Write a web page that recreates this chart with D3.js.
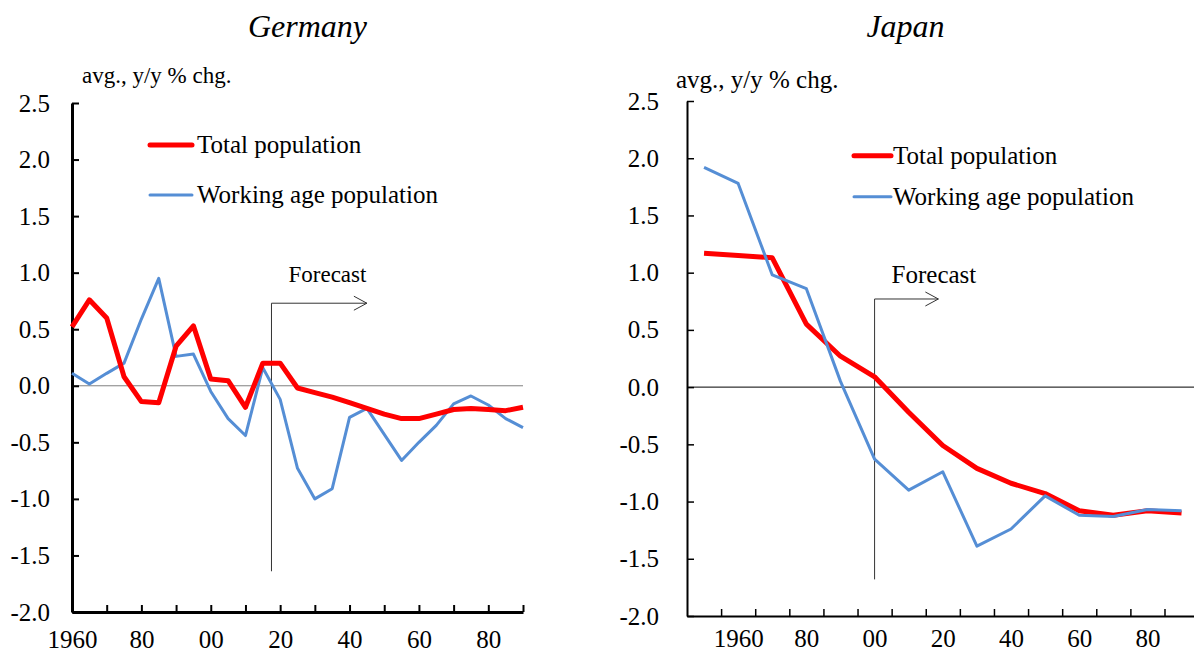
<!DOCTYPE html>
<html>
<head>
<meta charset="utf-8">
<script src="https://cdn.jsdelivr.net/npm/d3@7"></script>
<style>
  body { margin: 0; background: #fff; }
  svg text { font-family: "Liberation Serif", "Times New Roman", serif; fill: #000; }
</style>
</head>
<body>
<svg id="chart" width="1194" height="655"></svg>
<script>
// Germany, 5-year averages
const deYears = [1960, 1965, 1970, 1975, 1980, 1985, 1990, 1995, 2000, 2005, 2010, 2015, 2020, 2025,
                 2030, 2035, 2040, 2045, 2050, 2055, 2060, 2065, 2070, 2075, 2080, 2085, 2090];
const deTotal = [0.52, 0.76, 0.60, 0.08, -0.14, -0.15, 0.35, 0.53, 0.06, 0.045, -0.19, 0.20, 0.20, -0.02,
                 -0.06, -0.10, -0.15, -0.20, -0.25, -0.29, -0.29, -0.25, -0.21, -0.20, -0.21, -0.22, -0.19];
const deWorking = [0.11, 0.015, 0.11, 0.20, 0.59, 0.95, 0.26, 0.28, -0.05, -0.29, -0.44, 0.16, -0.12, -0.73,
                   -1.00, -0.91, -0.28, -0.20, -0.43, -0.66, -0.50, -0.35, -0.16, -0.09, -0.17, -0.29, -0.37];

// Japan, 10-year averages
const jpYears = [1950, 1960, 1970, 1980, 1990, 2000, 2010, 2020, 2030, 2040, 2050, 2060, 2070, 2080, 2090];
const jpTotal = [1.17, 1.15, 1.13, 0.55, 0.27, 0.09, -0.22, -0.51, -0.71, -0.84, -0.93, -1.08, -1.12, -1.08, -1.10];
const jpWorking = [1.92, 1.78, 0.98, 0.86, 0.05, -0.63, -0.90, -0.74, -1.39, -1.24, -0.95, -1.12, -1.13, -1.07, -1.08];

const yTicks = [2.5, 2.0, 1.5, 1.0, 0.5, 0.0, -0.5, -1.0, -1.5, -2.0];
const labelYears = [1960, 1980, 2000, 2020, 2040, 2060, 2080];
const seriesNames = ["Total population", "Working age population"];
const seriesColors = ["#ff0000", "#558ed5"];
const seriesWidths = [5, 3];

const svg = d3.select("#chart");

function yearLabel(d) {
  return d === 1960 ? "1960" : String(d % 100).padStart(2, "0");
}

function drawPanel(opt) {
  let x = d3.scaleLinear().domain(opt.xDomain).range([opt.left, opt.right]);
  let y = d3.scaleLinear().domain([-2, 2.5]).range([opt.bottom, opt.top]);
  let g = svg.append("g");

  // title
  g.append("text")
    .attr("x", opt.titleX).attr("y", 37)
    .attr("text-anchor", "middle")
    .style("font-style", "italic").style("font-size", "32px")
    .text(opt.title);

  // unit
  g.append("text")
    .attr("x", opt.unitX).attr("y", opt.unitY)
    .style("font-size", opt.unitSize + "px")
    .text("avg., y/y % chg.");

  // zero line
  g.append("line")
    .attr("x1", opt.left).attr("x2", opt.zeroEnd)
    .attr("y1", y(0)).attr("y2", y(0))
    .attr("stroke", opt.zeroColor).attr("stroke-width", 1);

  // y axis (ticks point inward)
  let ya = g.append("g")
    .attr("transform", `translate(${opt.left},0)`)
    .call(d3.axisLeft(y).tickValues(yTicks).tickFormat(d => d.toFixed(1))
      .tickSizeInner(-7).tickSizeOuter(0).tickPadding(opt.yPad));

  // x axis: tick marks
  let xa = g.append("g")
    .attr("transform", `translate(0,${opt.bottom})`)
    .call(d3.axisBottom(x).tickValues(opt.tickYears).tickFormat("")
      .tickSizeInner(-7).tickSizeOuter(0));

  // x axis: labels
  let xl = g.append("g")
    .attr("transform", `translate(0,${opt.bottom})`)
    .call(d3.axisBottom(x).tickValues(labelYears).tickFormat(yearLabel)
      .tickSize(0).tickPadding(opt.xPad));
  xl.select(".domain").remove();

  [ya, xa].forEach(a => {
    a.select(".domain").attr("stroke", "#000").attr("stroke-width", opt.axisW);
    a.selectAll(".tick line").attr("stroke", "#000").attr("stroke-width", opt.tickW);
  });
  [ya, xl].forEach(a => a.selectAll("text").style("font-size", "25px").attr("fill", "#000"));

  // forecast arrow
  let f = opt.forecast;
  let fx = x(f.year), fy = y(f.top), fe = x(f.end);
  g.append("path")
    .attr("d", `M${fx},${y(f.bottom)}V${fy}H${fe}M${fe - 13},${fy - 7}L${fe},${fy}L${fe - 13},${fy + 7}`)
    .attr("fill", "none").attr("stroke", "#333").attr("stroke-width", 1);
  g.append("text")
    .attr("x", fx + 17).attr("y", fy - opt.fcTextGap)
    .style("font-size", opt.fcSize + "px")
    .text("Forecast");

  // series lines
  let line = d3.line().x(d => x(d[0])).y(d => y(d[1]));
  opt.order.forEach(i => {
    g.append("path")
      .datum(opt.years.map((yr, k) => [yr, opt.series[i][k]]))
      .attr("d", line)
      .attr("fill", "none")
      .attr("stroke", seriesColors[i])
      .attr("stroke-width", seriesWidths[i])
      .attr("stroke-linejoin", "round");
  });

  // legend
  let lg = opt.legend;
  seriesNames.forEach((name, i) => {
    g.append("line")
      .attr("x1", lg.x1).attr("x2", lg.x2)
      .attr("y1", lg.ys[i]).attr("y2", lg.ys[i])
      .attr("stroke", seriesColors[i]).attr("stroke-width", seriesWidths[i])
      .attr("stroke-linecap", "round");
    g.append("text")
      .attr("x", lg.textX).attr("y", lg.ys[i]).attr("dy", "0.33em")
      .style("font-size", "25px")
      .text(name);
  });
}

drawPanel({
  title: "Germany", titleX: 307.5,
  left: 72, right: 523, top: 103, bottom: 612,
  xDomain: [1960, 2090],
  tickYears: d3.range(1960, 2091, 10),
  years: deYears, series: [deTotal, deWorking], order: [1, 0],
  unitX: 82, unitY: 83, unitSize: 23,
  zeroEnd: 523, zeroColor: "#808080",
  axisW: 3, tickW: 2, yPad: 22, xPad: 18,
  forecast: { year: 2017.5, end: 2045, top: 0.73, bottom: -1.64 },
  fcTextGap: 21, fcSize: 23,
  legend: { x1: 150, x2: 192, textX: 197, ys: [145, 195] }
});

drawPanel({
  title: "Japan", titleX: 905.5,
  left: 687, right: 1198.6, top: 101, bottom: 616,
  xDomain: [1945, 2095],
  tickYears: d3.range(1955, 2086, 10),
  years: jpYears, series: [jpTotal, jpWorking], order: [0, 1],
  unitX: 676, unitY: 88, unitSize: 25,
  zeroEnd: 1194, zeroColor: "#000",
  axisW: 2, tickW: 1.5, yPad: 28, xPad: 13,
  forecast: { year: 2000, end: 2018.7, top: 0.77, bottom: -1.68 },
  fcTextGap: 16, fcSize: 25,
  legend: { x1: 854, x2: 891, textX: 893, ys: [155.7, 196.7] }
});
</script>
</body>
</html>
